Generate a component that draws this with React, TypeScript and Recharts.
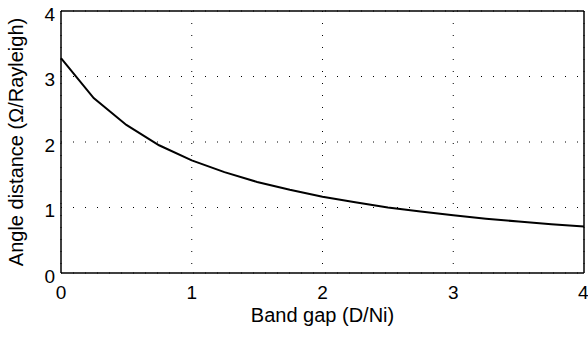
import { LineChart, Line, XAxis, YAxis, CartesianGrid } from 'recharts'

const bandGap = [0, 0.25, 0.5, 0.75, 1, 1.25, 1.5, 1.75, 2, 2.25, 2.5, 2.75, 3, 3.25, 3.5, 3.75, 4]
const angleDistance = [3.28, 2.67, 2.26, 1.95, 1.72, 1.54, 1.39, 1.27, 1.165, 1.08, 1.0, 0.94, 0.88, 0.83, 0.785, 0.745, 0.71]
const xTicks = [0, 1, 2, 3, 4]
const yTicks = [0, 1, 2, 3, 4]

const data = bandGap.map((x, i) => ({ x, y: angleDistance[i] }))

const FONT = '"Liberation Sans", Arial, Helvetica, sans-serif'

function XTitle({ viewBox }: any) {
  return (
    <text x={viewBox.x + viewBox.width / 2} y={viewBox.y + 49} textAnchor="middle" fontSize={20} fill="#000" fontFamily={FONT}>
      Band gap (D/Ni)
    </text>
  )
}

function YTitle({ viewBox }: any) {
  const cx = viewBox.x + 23
  const cy = viewBox.y + viewBox.height / 2
  return (
    <text x={cx} y={cy} transform={`rotate(-90 ${cx} ${cy})`} textAnchor="middle" fontSize={20} fill="#000" fontFamily={FONT}>
      Angle distance (Ω/Rayleigh)
    </text>
  )
}

export default function App() {
  return (
    <div style={{ position: 'absolute', left: 0, top: 0, width: 588, height: 338, background: '#fff', fontFamily: FONT }}>
      <LineChart width={588} height={338} data={data} margin={{ top: 11, right: 4, bottom: 0, left: 0 }}>
        <CartesianGrid stroke="#000" strokeDasharray="1 11" horizontalValues={yTicks} verticalValues={xTicks} />
        {/* labels outside */}
        <XAxis dataKey="x" type="number" domain={[0, 4]} ticks={xTicks} height={65} axisLine={false} tickLine={false} tickSize={0} tickMargin={13}
          tick={{ fill: '#000', fontSize: 19 }} label={<XTitle />} />
        <YAxis dataKey="y" type="number" domain={[0, 4]} ticks={yTicks} width={61} axisLine={false} tickLine={false} tickSize={0} tickMargin={6}
          tick={{ fill: '#000', fontSize: 19, dy: 3 }} label={<YTitle />} />
        {/* box with inward ticks */}
        <XAxis xAxisId="bin" dataKey="x" type="number" domain={[0, 4]} ticks={xTicks} mirror tick={false} tickSize={5}
          axisLine={{ stroke: '#000', strokeWidth: 1.5 }} tickLine={{ stroke: '#000' }} />
        <XAxis xAxisId="top" orientation="top" dataKey="x" type="number" domain={[0, 4]} ticks={xTicks} mirror tick={false} tickSize={5}
          axisLine={{ stroke: '#000', strokeWidth: 1.5 }} tickLine={{ stroke: '#000' }} />
        <YAxis yAxisId="lin" dataKey="y" type="number" domain={[0, 4]} ticks={yTicks} mirror tick={false} tickSize={5}
          axisLine={{ stroke: '#000', strokeWidth: 1.5 }} tickLine={{ stroke: '#000' }} />
        <YAxis yAxisId="right" orientation="right" dataKey="y" type="number" domain={[0, 4]} ticks={yTicks} mirror tick={false} tickSize={5}
          axisLine={{ stroke: '#000', strokeWidth: 1.5 }} tickLine={{ stroke: '#000' }} />
        <Line dataKey="y" type="linear" stroke="#000" strokeWidth={2} dot={false} isAnimationActive={false} />
      </LineChart>
    </div>
  )
}
